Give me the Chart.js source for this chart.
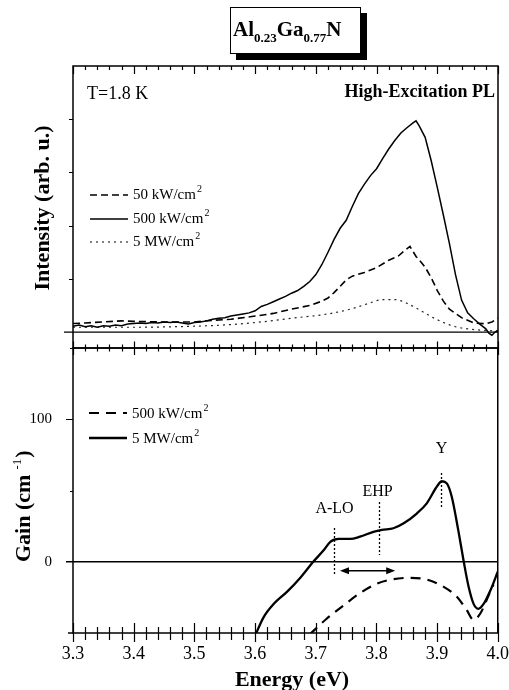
<!DOCTYPE html>
<html>
<head>
<meta charset="utf-8">
<script src="https://cdn.jsdelivr.net/npm/chart.js@4/dist/chart.umd.min.js"></script>
<style>
  body { margin: 0; background: #fff; }
  #wrap { position: relative; width: 509px; height: 690px; }
  #wrap canvas { position: absolute; left: 0; top: 0; }
</style>
</head>
<body>
<div id="wrap">
  <canvas id="pl" width="509" height="690"></canvas>
  <canvas id="gain" width="509" height="690"></canvas>
</div>
<script>
// ---- data ----
const energyTicks = [3.3, 3.4, 3.5, 3.6, 3.7, 3.8, 3.9, 4.0];

// top panel: PL intensity (arb. u.)
const plE50 = [3.30,3.32,3.35,3.38,3.40,3.44,3.48,3.50,3.53,3.56,3.60,3.63,3.66,3.69,3.71,3.72,3.73,3.74,3.75,3.76,3.78,3.80,3.82,3.835,3.845,3.855,3.865,3.87,3.88,3.89,3.90,3.91,3.92,3.94,3.96,3.98,3.99,4.0];
const plI50 = [0.16,0.17,0.19,0.21,0.20,0.19,0.19,0.19,0.22,0.24,0.30,0.35,0.43,0.50,0.58,0.64,0.74,0.86,0.98,1.05,1.12,1.21,1.35,1.42,1.52,1.61,1.42,1.36,1.22,1.02,0.78,0.58,0.43,0.27,0.17,0.155,0.19,0.26];

const plE500 = [3.30,3.31,3.32,3.33,3.34,3.35,3.36,3.37,3.38,3.39,3.40,3.41,3.42,3.43,3.44,3.45,3.46,3.47,3.48,3.49,3.50,3.51,3.52,3.53,3.54,3.55,3.56,3.57,3.58,3.59,3.60,3.61,3.62,3.63,3.64,3.65,3.66,3.67,3.68,3.69,3.70,3.71,3.72,3.73,3.74,3.75,3.76,3.77,3.78,3.79,3.80,3.81,3.82,3.83,3.84,3.85,3.86,3.865,3.87,3.88,3.89,3.90,3.91,3.92,3.93,3.94,3.95,3.96,3.97,3.98,3.985,3.99,3.995,4.0];
const plI500 = [0.11,0.13,0.10,0.12,0.09,0.12,0.11,0.13,0.12,0.15,0.16,0.17,0.16,0.18,0.17,0.19,0.18,0.19,0.17,0.15,0.18,0.19,0.21,0.24,0.26,0.27,0.30,0.32,0.34,0.36,0.40,0.48,0.52,0.57,0.62,0.67,0.73,0.78,0.86,0.95,1.08,1.27,1.50,1.74,1.95,2.10,2.36,2.60,2.78,2.94,3.07,3.26,3.44,3.60,3.74,3.84,3.93,3.97,3.88,3.66,3.22,2.72,2.20,1.66,1.08,0.60,0.36,0.25,0.15,0.06,-0.02,-0.06,0.0,0.03];

const plE5M = [3.30,3.40,3.50,3.56,3.61,3.66,3.72,3.76,3.79,3.81,3.83,3.85,3.87,3.89,3.91,3.93,3.95,3.98,4.0];
const plI5M = [0.09,0.09,0.11,0.14,0.19,0.26,0.34,0.44,0.55,0.61,0.61,0.54,0.42,0.29,0.18,0.10,0.06,0.03,0.02];

// bottom panel: gain (cm^-1)
const gainE500 = [3.690,3.718,3.746,3.773,3.801,3.828,3.856,3.883,3.911,3.933,3.949,3.960,3.971,3.985,3.993];
const gainG500 = [-51,-40,-30.6,-22,-15.3,-12.2,-11.3,-12.5,-17.6,-24.7,-34,-40.7,-36.5,-23.5,-16];

const gainE5M = [3.600,3.614,3.631,3.653,3.675,3.696,3.713,3.724,3.738,3.757,3.773,3.795,3.809,3.828,3.845,3.867,3.883,3.900,3.908,3.916,3.924,3.935,3.944,3.952,3.960,3.968,3.977,3.988,4.000];
const gainG5M = [-52,-39,-29.5,-21,-11,0,8,14,16,16,17.6,21,22.4,23.5,27,34,41,53,56.5,55,46,22,0,-17.6,-29.4,-33,-29.4,-20,-7];

// peak markers in the gain panel
const peakNames = ['A-LO', 'EHP', 'Y'];
const peakEnergies = [3.73, 3.805, 3.907];
const peakMarkTop = [23.7, 41.9, 62.3];
const peakMarkBottom = [-9.3, 4.7, 37.7];
const arrowFrom = 3.740, arrowTo = 3.831, arrowGain = -6.3;

const FONT = '"Liberation Serif", "Times New Roman", serif';

function pts(xs, ys) {
  return xs.map((x, i) => ({ x: x, y: ys[i] }));
}

function xTicks(ctx, sx, y, upMin, downMin, upMaj, downMaj) {
  ctx.beginPath();
  for (let k = 0; k < energyTicks.length; k++) {
    for (let m = 0; m < 5; m++) {
      if (k === energyTicks.length - 1 && m > 0) break;
      const v = energyTicks[k] + m * 0.02;
      const px = Math.round(sx.getPixelForValue(v)) + 0.5;
      const maj = m === 0;
      ctx.moveTo(px, y - (maj ? upMaj : upMin));
      ctx.lineTo(px, y + (maj ? downMaj : downMin));
    }
  }
  ctx.stroke();
}

function drawLegend(ctx, sets, x0, x1, rows, dy) {
  sets.forEach((ds, i) => {
    const y = rows[i];
    ctx.save();
    ctx.strokeStyle = '#000';
    ctx.lineWidth = ds.borderWidth;
    ctx.setLineDash(ds.borderDash || []);
    ctx.beginPath();
    ctx.moveTo(x0, y);
    ctx.lineTo(x1, y);
    ctx.stroke();
    ctx.restore();
    const main = ds.label.replace('²', '');
    ctx.fillStyle = '#000';
    ctx.textAlign = 'left';
    ctx.textBaseline = 'alphabetic';
    ctx.font = '15px ' + FONT;
    ctx.fillText(main, x1 + 5, y + dy);
    const w = ctx.measureText(main).width;
    ctx.font = '10px ' + FONT;
    ctx.fillText('2', x1 + 6 + w, y + dy - 7);
  });
}

const topDecor = {
  id: 'topDecor',
  afterDraw(chart) {
    const ctx = chart.ctx;
    const a = chart.chartArea;
    const sx = chart.scales.x, sy = chart.scales.y;
    ctx.save();
    ctx.strokeStyle = '#000';
    ctx.lineWidth = 1.5;
    ctx.strokeRect(a.left, a.top, a.right - a.left, a.bottom - a.top);
    // zero line
    const y0 = sy.getPixelForValue(0);
    ctx.lineWidth = 1.3;
    ctx.beginPath(); ctx.moveTo(a.left - 9, y0); ctx.lineTo(a.right, y0); ctx.stroke();
    // x ticks
    ctx.lineWidth = 1.2;
    xTicks(ctx, sx, a.top, 0, 4, 0, 8);
    xTicks(ctx, sx, a.bottom, 3.5, 0, 6.5, 0);
    // y ticks
    ctx.beginPath();
    [1, 2, 3, 4].forEach(v => {
      const py = Math.round(sy.getPixelForValue(v)) + 0.5;
      ctx.moveTo(a.left - 4, py); ctx.lineTo(a.left, py);
    });
    ctx.stroke();

    // legend
    drawLegend(ctx, chart.data.datasets, 90, 128, [195, 219, 242], 4);

    ctx.fillStyle = '#000';
    ctx.textBaseline = 'alphabetic';
    ctx.font = '18px ' + FONT;
    ctx.textAlign = 'left';
    ctx.fillText('T=1.8 K', 87, 99);
    ctx.font = 'bold 18px ' + FONT;
    ctx.textAlign = 'right';
    ctx.fillText('High-Excitation PL', 495, 97);

    // y title
    ctx.save();
    ctx.translate(43, 208);
    ctx.rotate(-Math.PI / 2);
    ctx.textAlign = 'center';
    ctx.textBaseline = 'middle';
    ctx.font = 'bold 22px ' + FONT;
    ctx.fillText('Intensity (arb. u.)', 0, 0);
    ctx.restore();

    // boxed title with shadow
    ctx.fillStyle = '#000';
    ctx.fillRect(236, 53, 131, 7);
    ctx.fillRect(360, 13, 7, 47);
    ctx.fillStyle = '#fff';
    ctx.fillRect(230, 7, 130, 46);
    ctx.lineWidth = 1;
    ctx.strokeRect(230.5, 7.5, 130, 46);
    ctx.fillStyle = '#000';
    ctx.textAlign = 'left';
    ctx.textBaseline = 'alphabetic';
    let tx = 233;
    [['Al', 21, 0], ['0.23', 13, 6], ['Ga', 21, 0], ['0.77', 13, 6], ['N', 21, 0]].forEach(p => {
      ctx.font = 'bold ' + p[1] + 'px ' + FONT;
      ctx.fillText(p[0], tx, 36 + p[2]);
      tx += ctx.measureText(p[0]).width;
    });
    ctx.restore();
  }
};

const bottomDecor = {
  id: 'bottomDecor',
  afterDraw(chart) {
    const ctx = chart.ctx;
    const a = chart.chartArea;
    const sx = chart.scales.x, sy = chart.scales.y;
    ctx.save();
    ctx.strokeStyle = '#000';
    ctx.fillStyle = '#000';
    ctx.lineWidth = 1.5;
    ctx.strokeRect(a.left, a.top, a.right - a.left, a.bottom - a.top);
    ctx.beginPath(); ctx.moveTo(a.left - 5, a.bottom); ctx.lineTo(a.left, a.bottom); ctx.stroke();
    const y0 = sy.getPixelForValue(0);
    ctx.lineWidth = 1.3;
    ctx.beginPath(); ctx.moveTo(a.left - 7, y0); ctx.lineTo(a.right, y0); ctx.stroke();
    ctx.lineWidth = 1.2;
    xTicks(ctx, sx, a.top, 0, 3.5, 0, 7);
    xTicks(ctx, sx, a.bottom, 6, 7, 10, 9);
    ctx.beginPath();
    [50, 100, 150].forEach(v => {
      const py = Math.round(sy.getPixelForValue(v)) + 0.5;
      ctx.moveTo(a.left - (v === 100 ? 7 : 3), py); ctx.lineTo(a.left, py);
    });
    ctx.stroke();

    drawLegend(ctx, chart.data.datasets, 89, 127, [413, 438], 5);

    // peak markers
    ctx.font = '16px ' + FONT;
    ctx.textAlign = 'center';
    ctx.textBaseline = 'alphabetic';
    const labelLift = [15, 6, 20];
    peakNames.forEach((name, i) => {
      const px = Math.round(sx.getPixelForValue(peakEnergies[i])) + 0.5;
      const yt = sy.getPixelForValue(peakMarkTop[i]);
      const yb = sy.getPixelForValue(peakMarkBottom[i]);
      ctx.save();
      ctx.setLineDash([2, 2]);
      ctx.lineWidth = 1.3;
      ctx.beginPath(); ctx.moveTo(px, yt); ctx.lineTo(px, yb); ctx.stroke();
      ctx.restore();
      ctx.fillText(name, px + (i === 1 ? -2 : 0), yt - labelLift[i]);
    });
    // double arrow
    const ax0 = sx.getPixelForValue(arrowFrom), ax1 = sx.getPixelForValue(arrowTo);
    const ay = sy.getPixelForValue(arrowGain);
    ctx.lineWidth = 1.5;
    ctx.beginPath(); ctx.moveTo(ax0 + 4, ay); ctx.lineTo(ax1 - 4, ay); ctx.stroke();
    ctx.beginPath();
    ctx.moveTo(ax0, ay); ctx.lineTo(ax0 + 9, ay - 3.5); ctx.lineTo(ax0 + 9, ay + 3.5); ctx.closePath();
    ctx.moveTo(ax1, ay); ctx.lineTo(ax1 - 9, ay - 3.5); ctx.lineTo(ax1 - 9, ay + 3.5); ctx.closePath();
    ctx.fill();

    // axis titles
    ctx.font = 'bold 22px ' + FONT;
    ctx.textAlign = 'center';
    ctx.fillText('Energy (eV)', 292, 686);

    ctx.save();
    ctx.translate(30, 562);
    ctx.rotate(-Math.PI / 2);
    ctx.textAlign = 'left';
    ctx.font = 'bold 22px ' + FONT;
    let gx = 0;
    ctx.fillText('Gain (cm', gx, 0);
    gx += ctx.measureText('Gain (cm').width + 5;
    ctx.font = '13px ' + FONT;
    ctx.fillText('-1', gx, -9);
    gx += ctx.measureText('-1').width + 1;
    ctx.font = 'bold 22px ' + FONT;
    ctx.fillText(')', gx, 0);
    ctx.restore();
    ctx.restore();
  }
};

const common = {
  responsive: false,
  animation: false,
  events: [],
  plugins: { legend: { display: false }, tooltip: { enabled: false } },
  elements: { point: { radius: 0 } }
};

new Chart(document.getElementById('pl'), {
  type: 'line',
  data: {
    datasets: [
      { label: '50 kW/cm²', data: pts(plE50, plI50), borderColor: '#000', borderWidth: 1.6, borderDash: [7, 4], tension: 0 },
      { label: '500 kW/cm²', data: pts(plE500, plI500), borderColor: '#000', borderWidth: 1.5, tension: 0 },
      { label: '5 MW/cm²', data: pts(plE5M, plI5M), borderColor: '#222', borderWidth: 1.2, borderDash: [2, 4], cubicInterpolationMode: 'monotone' }
    ]
  },
  options: Object.assign({}, common, {
    layout: { padding: { left: 73, right: 11, top: 66, bottom: 342 } },
    scales: {
      x: { type: 'linear', min: 3.3, max: 4.0, display: false },
      y: { min: -0.3, max: 5, display: false }
    }
  }),
  plugins: [topDecor]
});

new Chart(document.getElementById('gain'), {
  type: 'line',
  data: {
    datasets: [
      { label: '500 kW/cm²', data: pts(gainE500, gainG500), borderColor: '#000', borderWidth: 2.2, borderDash: [10, 7], cubicInterpolationMode: 'monotone' },
      { label: '5 MW/cm²', data: pts(gainE5M, gainG5M), borderColor: '#000', borderWidth: 2.3, cubicInterpolationMode: 'monotone' }
    ]
  },
  options: Object.assign({}, common, {
    layout: { padding: { left: 0, right: 0, top: 348, bottom: 0 } },
    scales: {
      x: {
        type: 'linear', min: 3.3, max: 4.0,
        grid: { display: true, drawOnChartArea: false, drawTicks: true, tickLength: 10, color: 'rgba(0,0,0,0)' },
        border: { display: false },
        ticks: { stepSize: 0.1, padding: 0, maxRotation: 0, color: '#000',
                 font: { family: FONT, size: 18 },
                 callback: v => v.toFixed(1) },
        afterFit: s => { s.height = 57; }
      },
      y: {
        min: -50, max: 150,
        grid: { display: false, drawTicks: false },
        border: { display: false },
        ticks: { stepSize: 50, padding: 21, color: '#000',
                 font: { family: FONT, size: 15 },
                 callback: v => (v === 0 || v === 100) ? String(v) : '' },
        afterFit: s => { s.width = 73; }
      }
    }
  }),
  plugins: [bottomDecor]
});
</script>
</body>
</html>
